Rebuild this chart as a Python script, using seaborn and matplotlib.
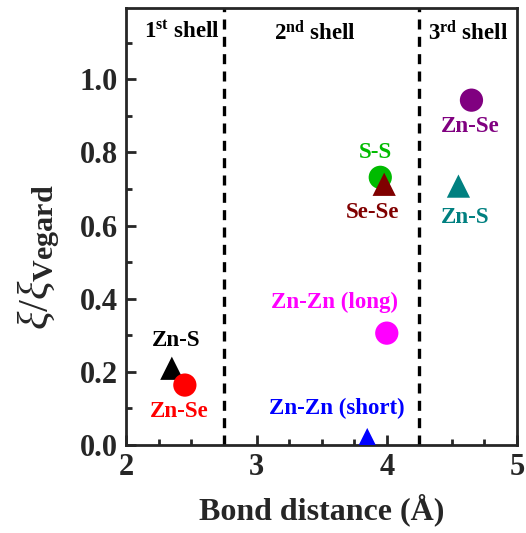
import matplotlib
matplotlib.use("Agg")
import matplotlib.pyplot as plt
import seaborn as sns
import pandas as pd
from matplotlib.ticker import MultipleLocator

sns.set_style("ticks")
plt.rcParams['font.family'] = ['Liberation Serif', 'DejaVu Serif']
plt.rcParams['mathtext.fontset'] = 'custom'
plt.rcParams['mathtext.rm'] = 'Liberation Serif'
plt.rcParams['mathtext.bf'] = 'Liberation Serif:bold'
plt.rcParams['mathtext.it'] = 'Liberation Serif:italic'

# Data
pair_names = ["Zn-S", "Zn-Se", "S-S", "Se-Se", "Zn-Zn (long)", "Zn-Zn (short)", "Zn-Se ", "Zn-S "]
bond_dist = [2.35, 2.45, 3.95, 3.98, 4.00, 3.85, 4.65, 4.55]
xi_ratio = [0.21, 0.164, 0.732, 0.713, 0.306, 0.015, 0.943, 0.708]
markers = ["^", "o", "o", "^", "o", "^", "o", "^"]
colors = ["#000000", "#ff0000", "#00bb00", "#800000", "#ff00ff", "#0000ff", "#800080", "#008080"]
label_x = [2.38, 2.41, 3.91, 3.89, 3.60, 3.62, 4.64, 4.60]
label_y = [0.287, 0.093, 0.80, 0.637, 0.39, 0.10, 0.87, 0.623]
shell_names = ["1$^{\\mathbf{st}}$ shell", "2$^{\\mathbf{nd}}$ shell", "3$^{\\mathbf{rd}}$ shell"]
shell_x = [2.43, 3.45, 4.62]
shell_bounds = [2.75, 4.25]

df = pd.DataFrame({"pair": pair_names, "d": bond_dist, "xi": xi_ratio})

fig, ax = plt.subplots(figsize=(5.26, 5.33), dpi=100)
fig.subplots_adjust(left=0.24, right=0.983, top=0.985, bottom=0.165)

sns.scatterplot(data=df, x="d", y="xi", hue="pair", style="pair",
                palette=dict(zip(pair_names, colors)),
                markers=dict(zip(pair_names, markers)),
                s=280, edgecolor="none", legend=False, ax=ax, zorder=3)

for xb in shell_bounds:
    ax.axvline(xb, color="black", ls=(0, (3, 2.2)), lw=2.4, zorder=1)

for name, lx, ly, c in zip(pair_names, label_x, label_y, colors):
    ax.text(lx, ly, name.strip(), color=c, fontsize=16.5, fontweight="bold",
            ha="center", va="center")

for s, sx in zip(shell_names, shell_x):
    ax.text(sx, 1.128, s, color="black", fontsize=16.5, fontweight="bold",
            ha="center", va="center")

ax.set_xlim(2, 5)
ax.set_ylim(0, 1.195)
ax.xaxis.set_minor_locator(MultipleLocator(0.25))
ax.yaxis.set_minor_locator(MultipleLocator(0.1))
ax.set_yticks([0.0, 0.2, 0.4, 0.6, 0.8, 1.0])
ax.set_yticklabels(["0.0", "0.2", "0.4", "0.6", "0.8", "1.0"])
ax.set_xticks([2, 3, 4, 5])
ax.set_xticklabels(["2", "3", "4", "5"])
ax.tick_params(which="major", direction="in", length=7, width=2, labelsize=22, pad=6)
ax.tick_params(which="minor", direction="in", length=4, width=2)
for lab in ax.get_xticklabels() + ax.get_yticklabels():
    lab.set_fontweight("bold")
for sp in ax.spines.values():
    sp.set_linewidth(2)
    sp.set_visible(True)

ax.set_xlabel("Bond distance (Å)", fontsize=23, fontweight="bold", labelpad=8)
ax.set_ylabel(r"$\xi/\xi_{\mathbf{Vegard}}$", fontsize=31)
ax.yaxis.set_label_coords(-0.165, 0.43)

fig.savefig("out.png", dpi=100)
